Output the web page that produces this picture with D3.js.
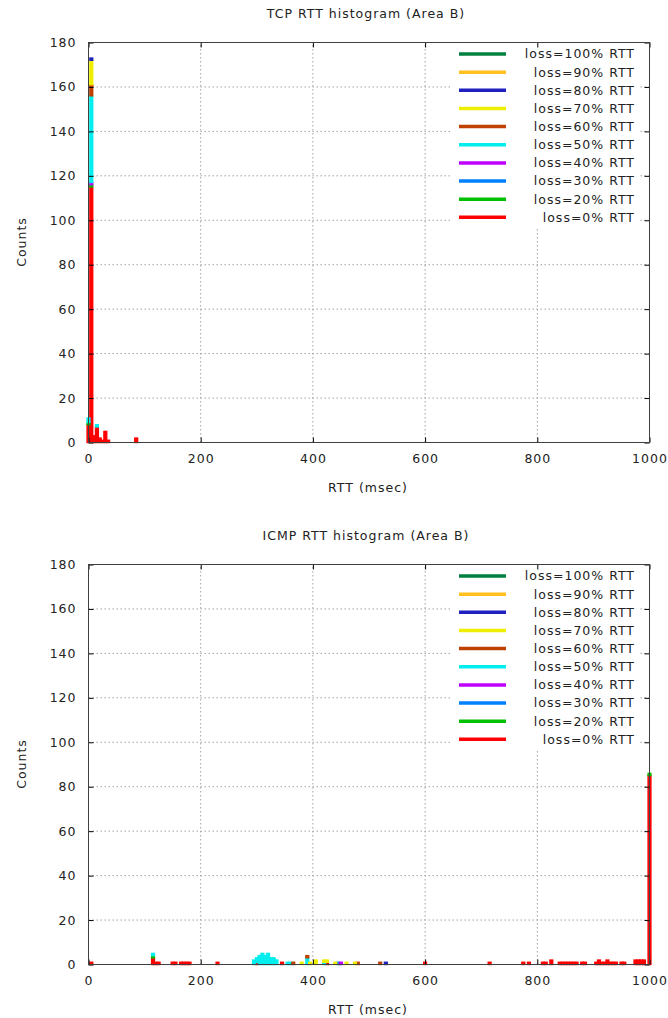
<!DOCTYPE html>
<html>
<head>
<meta charset="utf-8">
<script src="https://cdn.jsdelivr.net/npm/d3@7"></script>
<style>
 body { margin: 0; background: #fff; }
 text { font-family: "DejaVu Sans", sans-serif; font-size: 12.5px; letter-spacing: 1px; fill: #222; }
</style>
</head>
<body>
<svg id="chart" width="668" height="1018"></svg>
<script>
// loss levels, bottom of the stack first
var lossLevels = [0, 20, 30, 40, 50, 60, 70, 80, 90, 100];
var lossColors = ["#ff0000", "#00c000", "#0080ff", "#c000ff", "#00eeee",
                  "#c04000", "#eeee00", "#2020c0", "#ffc020", "#008040"];
var xTicks = [0, 200, 400, 600, 800, 1000];
var yTicks = [0, 20, 40, 60, 80, 100, 120, 140, 160, 180];
var binWidth = 5; // msec

// TCP : [rtt bin (msec), count] for each loss level
var tcpLoss0   = [[0, 8], [5, 115], [10, 3], [15, 7], [20, 2], [25, 1], [30, 5], [35, 1], [85, 2]];
var tcpLoss20  = [[0, 1], [5, 1]];
var tcpLoss30  = [];
var tcpLoss40  = [[5, 1]];
var tcpLoss50  = [[0, 2], [5, 39], [15, 1]];
var tcpLoss60  = [[5, 5]];
var tcpLoss70  = [[5, 11]];
var tcpLoss80  = [[5, 1]];
var tcpLoss90  = [];
var tcpLoss100 = [];

// ICMP
var icmpLoss0   = [[5, 1], [115, 3], [120, 1], [125, 1], [150, 1], [155, 1], [165, 1], [170, 1], [175, 1], [180, 1],
                   [230, 1], [300, 1], [345, 1], [425, 1], [600, 1], [715, 1], [775, 1], [785, 1], [810, 1], [815, 1],
                   [825, 2], [840, 1], [845, 1], [850, 1], [855, 1], [860, 1], [865, 1], [870, 1], [880, 1], [885, 1],
                   [905, 1], [910, 2], [915, 1], [920, 1], [925, 2], [930, 1], [935, 1], [940, 1], [950, 1], [955, 1],
                   [975, 2], [980, 2], [985, 2], [990, 2], [1000, 85]];
var icmpLoss20  = [[115, 1], [1000, 1]];
var icmpLoss30  = [[445, 1]];
var icmpLoss40  = [[450, 1]];
var icmpLoss50  = [[115, 1], [295, 2], [300, 2], [305, 4], [310, 5], [315, 4], [320, 5], [325, 3], [330, 3], [335, 2],
                   [355, 1], [360, 1], [390, 3], [420, 1]];
var icmpLoss60  = [[365, 1], [390, 1], [480, 1], [520, 1]];
var icmpLoss70  = [[380, 1], [395, 1], [405, 2], [420, 1], [425, 1], [440, 1], [460, 1], [475, 1]];
var icmpLoss80  = [[530, 1]];
var icmpLoss90  = [];
var icmpLoss100 = [];

var charts = [
  { title: "TCP RTT histogram (Area B)", top: 0,
    series: [tcpLoss0, tcpLoss20, tcpLoss30, tcpLoss40, tcpLoss50, tcpLoss60, tcpLoss70, tcpLoss80, tcpLoss90, tcpLoss100] },
  { title: "ICMP RTT histogram (Area B)", top: 522,
    series: [icmpLoss0, icmpLoss20, icmpLoss30, icmpLoss40, icmpLoss50, icmpLoss60, icmpLoss70, icmpLoss80, icmpLoss90, icmpLoss100] }
];

var svg = d3.select("#chart");
var x = d3.scaleLinear().domain([0, 1000]).range([88.5, 649.5]);
var y = d3.scaleLinear().domain([0, 180]).range([442.5, 42.5]);
var keys = lossLevels.map(function(l) { return "loss=" + l + "% RTT"; });

function drawChart(c) {
  var g = svg.append("g").attr("transform", "translate(0," + c.top + ")");

  // table of bins built from the series
  var rows = {};
  c.series.forEach(function(s, i) {
    s.forEach(function(p) {
      if (!rows[p[0]]) {
        rows[p[0]] = { rtt: p[0] };
        keys.forEach(function(k) { rows[p[0]][k] = 0; });
      }
      rows[p[0]][keys[i]] = p[1];
    });
  });
  var table = Object.values(rows).sort(function(a, b) { return a.rtt - b.rtt; });
  var stacked = d3.stack().keys(keys)(table);

  // grid
  g.append("g").selectAll("line").data(xTicks.slice(1, -1)).join("line")
    .attr("x1", x).attr("x2", x).attr("y1", y(0)).attr("y2", y(180))
    .attr("stroke", "#a0a0a0").attr("stroke-dasharray", "1.5,2.5");
  g.append("g").selectAll("line").data(yTicks.slice(1, -1)).join("line")
    .attr("y1", y).attr("y2", y).attr("x1", x(0)).attr("x2", x(1000))
    .attr("stroke", "#a0a0a0").attr("stroke-dasharray", "1.5,2.5");

  // bars
  stacked.forEach(function(layer, i) {
    g.append("g").selectAll("rect")
      .data(layer.filter(function(d) { return d[1] > d[0]; }))
      .join("rect")
      .attr("x", function(d) { return x(d.data.rtt - binWidth / 2); })
      .attr("width", function(d) { return x(d.data.rtt + binWidth / 2) - x(d.data.rtt - binWidth / 2); })
      .attr("y", function(d) { return y(d[1]); })
      .attr("height", function(d) { return y(d[0]) - y(d[1]); })
      .attr("fill", lossColors[i])
      .attr("stroke", lossColors[i])
      .attr("stroke-width", 1.4);
  });

  // key
  g.append("rect").attr("x", 452).attr("y", 44).attr("width", 188).attr("height", 183).attr("fill", "#fff");
  var key = g.append("g");
  lossLevels.slice().reverse().forEach(function(l, j) {
    var i = lossLevels.length - 1 - j;
    var ky = 54 + j * 18.15;
    key.append("line").attr("x1", 459).attr("x2", 506).attr("y1", ky).attr("y2", ky)
      .attr("stroke", lossColors[i]).attr("stroke-width", 3.5);
    key.append("text").attr("x", 635).attr("y", ky).attr("dy", "0.35em")
      .attr("text-anchor", "end").text(keys[i]);
  });

  // axes
  g.append("g").attr("transform", "translate(0," + y(0) + ")")
    .call(d3.axisBottom(x).tickValues(xTicks).tickFormat(d3.format("d"))
      .tickSizeInner(-5).tickSizeOuter(0).tickPadding(12));
  g.append("g").attr("transform", "translate(0," + y(180) + ")")
    .call(d3.axisTop(x).tickValues(xTicks).tickSizeInner(-5).tickSizeOuter(0).tickFormat(""));
  g.append("g").attr("transform", "translate(" + x(0) + ",0)")
    .call(d3.axisLeft(y).tickValues(yTicks).tickSizeInner(-5).tickSizeOuter(0).tickPadding(12));
  g.append("g").attr("transform", "translate(" + x(1000) + ",0)")
    .call(d3.axisRight(y).tickValues(yTicks).tickSizeInner(-5).tickSizeOuter(0).tickFormat(""));
  g.selectAll(".domain").remove();
  g.selectAll(".tick text").attr("font-family", null).attr("font-size", null);
  g.selectAll(".tick line").attr("stroke", "#000");

  g.append("rect").attr("x", x(0)).attr("y", y(180))
    .attr("width", x(1000) - x(0)).attr("height", y(0) - y(180))
    .attr("fill", "none").attr("stroke", "#404040");

  // titles
  g.append("text").attr("x", 366).attr("y", 18).attr("text-anchor", "middle").text(c.title);
  g.append("text").attr("x", 368).attr("y", 492).attr("text-anchor", "middle").text("RTT (msec)");
  g.append("text").attr("transform", "translate(26,242) rotate(-90)").attr("text-anchor", "middle").text("Counts");
}

charts.forEach(drawChart);
</script>
</body>
</html>
